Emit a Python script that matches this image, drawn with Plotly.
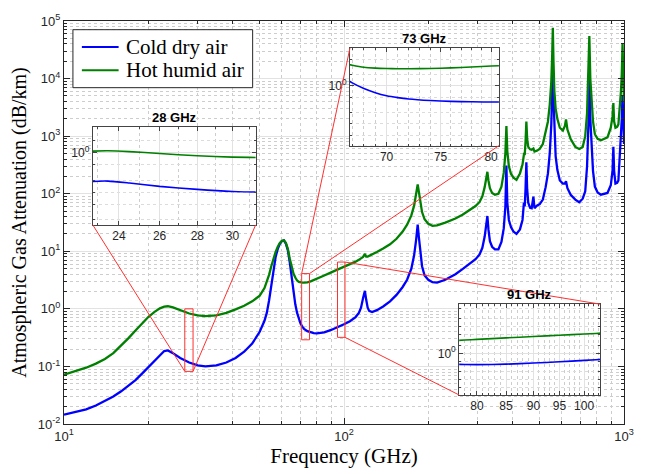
import math
import plotly.graph_objects as go

# ---------------- data ----------------
FREQ = [10, 11, 12, 13, 14, 15, 16, 17, 18, 19, 20, 21, 22, 22.8, 23.5, 24.5, 26, 28, 30, 32,
        35, 38, 41, 44, 47, 50, 52, 53, 54, 55, 56, 57, 58, 59, 60, 61, 62, 63, 64, 65,
        66, 67, 68, 69, 70, 71, 72, 74, 76, 78, 80, 85, 90, 95, 100, 105, 110, 113, 115, 117,
        118.75, 120, 121.5, 123, 126, 131, 138, 146, 154, 162, 168, 174, 178, 181, 183.3, 185, 187, 190, 194, 200,
        207, 215, 230, 250, 265, 280, 295, 305, 312, 318, 322, 325.15, 328, 332, 338, 346, 356, 365, 372, 377,
        380.2, 383, 388, 395, 403, 413, 425, 434, 439.15, 442, 445, 448, 451, 455, 462, 468, 474.7, 479, 488.5, 500,
        513, 525, 535, 543, 550, 554, 556.94, 560, 564, 570, 578, 590, 605, 615, 620.7, 628, 645, 670, 692, 712,
        727, 738, 746, 752, 758, 766, 775, 787, 805, 827, 850, 873, 897, 910, 916.2, 922, 932, 945, 955, 966,
        975, 982, 988, 994, 1000]

COLD = [0.0145, 0.016, 0.018, 0.021, 0.025, 0.030, 0.037, 0.046, 0.058, 0.075, 0.097, 0.125, 0.16, 0.185, 0.19, 0.17, 0.14, 0.117, 0.104, 0.100,
        0.104, 0.117, 0.14, 0.18, 0.25, 0.40, 0.62, 0.85, 1.4, 2.6, 4.8, 8.0, 11, 13.5, 15, 15.5, 13.5, 10.5, 6.5, 3.6,
        1.9, 1.2, 0.85, 0.66, 0.55, 0.49, 0.45, 0.41, 0.39, 0.38, 0.375, 0.39, 0.43, 0.48, 0.54, 0.61, 0.72, 0.85, 1.05, 1.55,
        2.05, 1.45, 1.05, 0.92, 0.88, 0.95, 1.1, 1.35, 1.75, 2.4, 3.2, 5.0, 8.5, 16, 29, 18, 10, 5.5, 3.8, 3.2,
        2.9, 2.85, 3.2, 4.0, 4.9, 6.0, 7.3, 8.8, 11.5, 18, 28, 41, 24, 15, 12, 10.8, 10.8, 14.5, 25, 60,
        310, 70, 35, 26, 22, 20, 24, 35, 70, 60, 120, 350, 120, 70, 57, 56, 89, 56, 62, 66,
        79, 130, 225, 500, 1600, 5000, 17000, 4500, 1200, 450, 260, 170, 150, 150, 165, 125, 96, 79, 71, 82,
        110, 300, 1500, 11400, 2000, 650, 250, 133, 105, 96, 98, 103, 140, 250, 650, 250, 150, 155, 170, 435,
        830, 2000, 5200, 1500, 730]

HOT = [0.072, 0.083, 0.095, 0.112, 0.135, 0.17, 0.23, 0.31, 0.42, 0.56, 0.72, 0.88, 1.02, 1.09, 1.11, 1.06, 0.95, 0.83, 0.77, 0.75,
       0.77, 0.85, 0.98, 1.13, 1.35, 1.7, 2.3, 2.9, 3.9, 5.5, 7.5, 9.8, 12, 14, 15.2, 15.5, 14, 11, 7.5, 5.2,
       4.1, 3.5, 3.1, 2.95, 2.88, 2.85, 2.85, 2.88, 3.0, 3.15, 3.35, 3.8, 4.3, 4.8, 5.3, 5.9, 6.6, 7.1, 7.5, 8.0,
       9.0, 8.1, 8.1, 8.3, 8.8, 9.7, 11.2, 13.2, 16.5, 22, 29, 42, 62, 95, 145, 110, 75, 48, 36, 30,
       27.6, 28.2, 31.5, 37, 43, 51, 61, 72, 90, 130, 185, 240, 170, 125, 103, 96, 100, 133, 230, 500,
       1500, 550, 300, 220, 190, 174, 225, 320, 480, 470, 800, 1800, 900, 650, 590, 580, 610, 540, 560, 600,
       730, 1150, 1800, 3500, 8800, 25000, 76000, 20000, 6000, 3000, 2000, 1400, 1250, 1500, 1950, 1300, 890, 650, 600, 650,
       1000, 2500, 10000, 55000, 10000, 4000, 1800, 1080, 900, 850, 900, 950, 1400, 2200, 3750, 1800, 1400, 1450, 1600, 3000,
       5900, 12000, 40000, 12000, 4000]

SERIES_NAMES = ["Cold dry air", "Hot humid air"]
SERIES_COLORS = ["#0000ff", "#008000"]

X_TICKS = [10, 100, 1000]
X_TICKTEXT = ["10<sup>1</sup>", "10<sup>2</sup>", "10<sup>3</sup>"]
Y_TICKS = [0.01, 0.1, 1, 10, 100, 1000, 10000, 100000]
Y_TICKTEXT = ["10<sup>-2</sup>", "10<sup>-1</sup>", "10<sup>0</sup>", "10<sup>1</sup>",
              "10<sup>2</sup>", "10<sup>3</sup>", "10<sup>4</sup>", "10<sup>5</sup>"]

INSET_TITLES = ["28 GHz", "73 GHz", "91 GHz"]
INSET_XRANGE = [(22.8, 31.4), (66.8, 80.8), (77.1, 103.4)]
INSET_YRANGE = [(-1.83, 0.64), (-1.58, 1.0), (-1.57, 1.85)]
INSET_XTICKS = [[24, 26, 28, 30], [70, 75, 80], [80, 85, 90, 95, 100]]
# zoom rectangles on main plot: (f_lo, f_hi, v_lo, v_hi)
ZOOM_RECTS = [(27.0, 28.9, 0.082, 1.0), (70.6, 75.3, 0.29, 4.1), (94.8, 100.8, 0.32, 6.5)]

# ---------------- layout geometry ----------------
W, H = 646, 474
ML, MR, MT, MB = 64, 18, 13, 44
PW, PH = W - ML - MR, H - MT - MB


def px_to_paper(x, y):
    return (x - ML) / PW, (H - MB - y) / PH


# inset boxes in pixels (left, top, right, bottom)
INSET_BOX_PX = [(93, 123, 257, 224), (352, 41, 502, 142), (462, 306, 604, 400)]
# legend box in pixels
LEG_BOX_PX = (73, 22, 254, 82)
LEG_ROWS_PX = [40, 64]

XR = (1, 3)
YR = (-2, 5)


def data_to_paper(f, v):
    return ((math.log10(f) - XR[0]) / (XR[1] - XR[0]),
            (math.log10(v) - YR[0]) / (YR[1] - YR[0]))


TICKFONT = dict(family="Liberation Sans, Arial, sans-serif", size=13, color="#262626")
SERIF = "Liberation Serif, Times New Roman, serif"
GRID = "#e2e2e2"
MINORGRID = "#cdcdcd"
AXC = "#262626"

fig = go.Figure()
for name, col, vals in zip(SERIES_NAMES, SERIES_COLORS, [COLD, HOT]):
    fig.add_trace(go.Scatter(x=FREQ, y=vals, name=name, mode="lines", showlegend=False,
                             line=dict(color=col, width=2.3), xaxis="x", yaxis="y"))

layout = dict(
    width=W, height=H,
    margin=dict(l=ML, r=MR, t=MT, b=MB),
    paper_bgcolor="white", plot_bgcolor="white",
    showlegend=False,
    xaxis=dict(type="log", range=list(XR), tickmode="array", tickvals=X_TICKS, ticktext=X_TICKTEXT,
               showline=True, linecolor=AXC, linewidth=1, mirror="ticks",
               ticks="inside", ticklen=6, tickcolor=AXC, tickfont=TICKFONT,
               showgrid=True, gridcolor=GRID, zeroline=False,
               minor=dict(dtick="D1", ticks="inside", ticklen=3, tickcolor=AXC,
                          showgrid=True, gridcolor=MINORGRID, griddash="dot"),
               title=dict(text="Frequency (GHz)", font=dict(family=SERIF, size=21, color="black"), standoff=4),
               domain=[0, 1], anchor="y"),
    yaxis=dict(type="log", range=list(YR), tickmode="array", tickvals=Y_TICKS, ticktext=Y_TICKTEXT,
               showline=True, linecolor=AXC, linewidth=1, mirror="ticks",
               ticks="inside", ticklen=6, tickcolor=AXC, tickfont=TICKFONT,
               showgrid=True, gridcolor=GRID, zeroline=False,
               minor=dict(dtick="D1", ticks="inside", ticklen=3, tickcolor=AXC,
                          showgrid=True, gridcolor=MINORGRID, griddash="dot"),
               title=dict(text="Atmospheric Gas Attenuation (dB/km)",
                          font=dict(family=SERIF, size=20, color="black"), standoff=5),
               domain=[0, 1], anchor="x"),
)

INSET_YMINOR = [m * 10.0 ** e for e in (-2, -1, 0, 1) for m in (1, 2, 5) if not (e == 0 and m == 1)]

shapes = []
annotations = []
for i in range(3):
    k = i + 2
    l, t, r, b = INSET_BOX_PX[i]
    x0, y1 = px_to_paper(l, t)
    x1, y0 = px_to_paper(r, b)
    xr = INSET_XRANGE[i]
    yr = INSET_YRANGE[i]
    xmin = [v for v in range(math.ceil(xr[0]), math.floor(xr[1]) + 1) if v not in INSET_XTICKS[i]]
    layout[f"xaxis{k}"] = dict(type="log", range=[math.log10(xr[0]), math.log10(xr[1])],
                               domain=[x0, x1], anchor=f"y{k}",
                               tickmode="array", tickvals=INSET_XTICKS[i],
                               ticktext=[str(v) for v in INSET_XTICKS[i]],
                               showline=True, linecolor="#444444", linewidth=1, mirror="ticks",
                               ticks="inside", ticklen=4, tickcolor="#444444",
                               tickfont=dict(family="Liberation Sans, Arial, sans-serif", size=12, color="#262626"),
                               showgrid=True, gridcolor=GRID, zeroline=False,
                               minor=dict(tickmode="array", tickvals=xmin, ticks="inside", ticklen=2,
                                          tickcolor="#444444", showgrid=True, gridcolor=MINORGRID, griddash="dot"))
    layout[f"yaxis{k}"] = dict(type="log", range=list(yr), domain=[y0, y1], anchor=f"x{k}",
                               tickmode="array", tickvals=[1], ticktext=["10<sup>0</sup>"],
                               showline=True, linecolor="#444444", linewidth=1, mirror="ticks",
                               ticks="inside", ticklen=4, tickcolor="#444444",
                               tickfont=dict(family="Liberation Sans, Arial, sans-serif", size=12, color="#262626"),
                               showgrid=True, gridcolor=GRID, zeroline=False,
                               minor=dict(tickmode="array", tickvals=INSET_YMINOR, ticks="inside", ticklen=2,
                                          tickcolor="#444444", showgrid=True, gridcolor="#dcdcdc", griddash="dot"))
    for col, vals in zip(SERIES_COLORS, [COLD, HOT]):
        fig.add_trace(go.Scatter(x=FREQ, y=vals, mode="lines", showlegend=False,
                                 line=dict(color=col, width=1.6, shape="spline", smoothing=0.6),
                                 xaxis=f"x{k}", yaxis=f"y{k}", hoverinfo="skip"))
    annotations.append(dict(text=f"<b>{INSET_TITLES[i]}</b>", x=(x0 + x1) / 2, y=y1,
                            xref="paper", yref="paper", xanchor="center", yanchor="bottom",
                            showarrow=False, yshift=0,
                            font=dict(family="Liberation Sans, Arial, sans-serif", size=13, color="black")))

    # zoom rectangle on the main axes
    flo, fhi, vlo, vhi = ZOOM_RECTS[i]
    rx0, ry0 = data_to_paper(flo, vlo)
    rx1, ry1 = data_to_paper(fhi, vhi)
    shapes.append(dict(type="rect", xref="paper", yref="paper", x0=rx0, x1=rx1, y0=ry0, y1=ry1,
                       line=dict(color="#ff3030", width=1), layer="above"))
    if i == 0:
        pairs = [((rx0, ry0), (x0, y0)), ((rx1, ry0), (x1, y0))]
    elif i == 1:
        pairs = [((rx0, ry1), (x0, y1)), ((rx1, ry1), (x1, y0))]
    else:
        pairs = [((rx1, ry1), (x1, y1)), ((rx1, ry0), (x0, y0))]
    for (ax_, ay_), (bx_, by_) in pairs:
        shapes.append(dict(type="line", xref="paper", yref="paper", x0=ax_, y0=ay_, x1=bx_, y1=by_,
                           line=dict(color="#ff3030", width=1), layer="above"))

# ---------------- legend (box, samples, labels) ----------------
lx0, ly1 = px_to_paper(LEG_BOX_PX[0], LEG_BOX_PX[1])
lx1, ly0 = px_to_paper(LEG_BOX_PX[2], LEG_BOX_PX[3])
shapes.append(dict(type="rect", xref="paper", yref="paper", x0=lx0, x1=lx1, y0=ly0, y1=ly1,
                   line=dict(color=AXC, width=1), fillcolor="white", layer="above"))
for name, col, row in zip(SERIES_NAMES, SERIES_COLORS, LEG_ROWS_PX):
    sx0, sy = px_to_paper(LEG_BOX_PX[0] + 9, row)
    sx1, _ = px_to_paper(LEG_BOX_PX[0] + 46, row)
    shapes.append(dict(type="line", xref="paper", yref="paper", x0=sx0, x1=sx1, y0=sy, y1=sy,
                       line=dict(color=col, width=2), layer="above"))
    tx, _ = px_to_paper(LEG_BOX_PX[0] + 51, row)
    annotations.append(dict(text=name, x=tx, y=sy, xref="paper", yref="paper",
                            xanchor="left", yanchor="middle", showarrow=False,
                            font=dict(family=SERIF, size=21, color="black")))

layout["shapes"] = shapes
layout["annotations"] = annotations
fig.update_layout(**layout)
fig.write_html("out.html")
